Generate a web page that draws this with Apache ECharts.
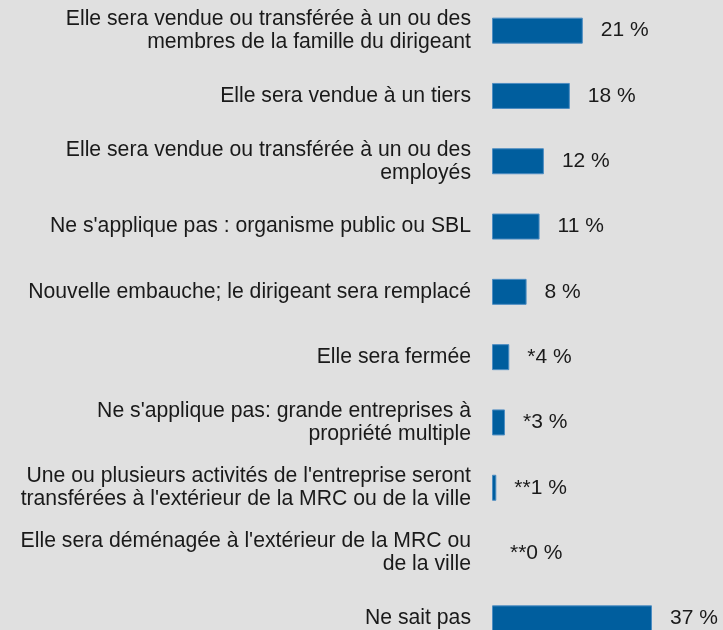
<!DOCTYPE html>
<html>
<head>
<meta charset="utf-8">
<script src="https://cdn.jsdelivr.net/npm/echarts@6/dist/echarts.min.js"></script>
<style>
  html, body { margin: 0; padding: 0; background: #e0e0e0; overflow: hidden; }
  #chart { width: 723px; height: 680px; margin-top: -10px; }
</style>
</head>
<body>
<div id="chart"></div>
<script>
// Devenir de l'entreprise au départ du dirigeant (%)
const categories = [
  "Elle sera vendue ou transférée à un ou des\nmembres de la famille du dirigeant",
  "Elle sera vendue à un tiers",
  "Elle sera vendue ou transférée à un ou des\nemployés",
  "Ne s'applique pas : organisme public ou SBL",
  "Nouvelle embauche; le dirigeant sera remplacé",
  "Elle sera fermée",
  "Ne s'applique pas: grande entreprises à\npropriété multiple",
  "Une ou plusieurs activités de l'entreprise seront\ntransférées à l'extérieur de la MRC ou de la ville",
  "Elle sera déménagée à l'extérieur de la MRC ou\nde la ville",
  "Ne sait pas"
];
const values = [21, 18, 12, 11, 8, 4, 3, 1, 0, 37];
const valueLabels = ["21 %", "18 %", "12 %", "11 %", "8 %", "*4 %", "*3 %", "**1 %", "**0 %", "37 %"];

const chart = echarts.init(document.getElementById('chart'), null, { renderer: 'canvas' });
const FONT = '"Liberation Sans", Arial, sans-serif';
const xMax = 50;
const pxPerUnit = 4.324;

chart.setOption({
  backgroundColor: '#e0e0e0',
  animation: false,
  grid: { left: 492, top: 8, width: xMax * pxPerUnit, height: 653, containLabel: false },
  xAxis: {
    type: 'value', min: 0, max: xMax, show: false
  },
  yAxis: {
    type: 'category',
    data: categories,
    inverse: true,
    axisLine: { show: false },
    axisTick: { show: false },
    splitLine: { show: false },
    axisLabel: {
      margin: 21,
      color: '#1a1a1a',
      fontFamily: FONT,
      fontSize: 21.2,
      lineHeight: 23,
      align: 'right'
    }
  },
  series: [{
    type: 'bar',
    // an empty bar gets no outline
    data: values.map(v => ({ value: v, itemStyle: { borderWidth: v === 0 ? 0 : 1 } })),
    barWidth: 26,
    itemStyle: { color: '#005e9e', borderColor: '#4d8dc2', borderWidth: 1 },
    label: {
      show: true,
      position: 'right',
      distance: 18,
      color: '#1a1a1a',
      fontFamily: FONT,
      fontSize: 21,
      formatter: p => valueLabels[p.dataIndex]
    }
  }]
});
</script>
</body>
</html>
